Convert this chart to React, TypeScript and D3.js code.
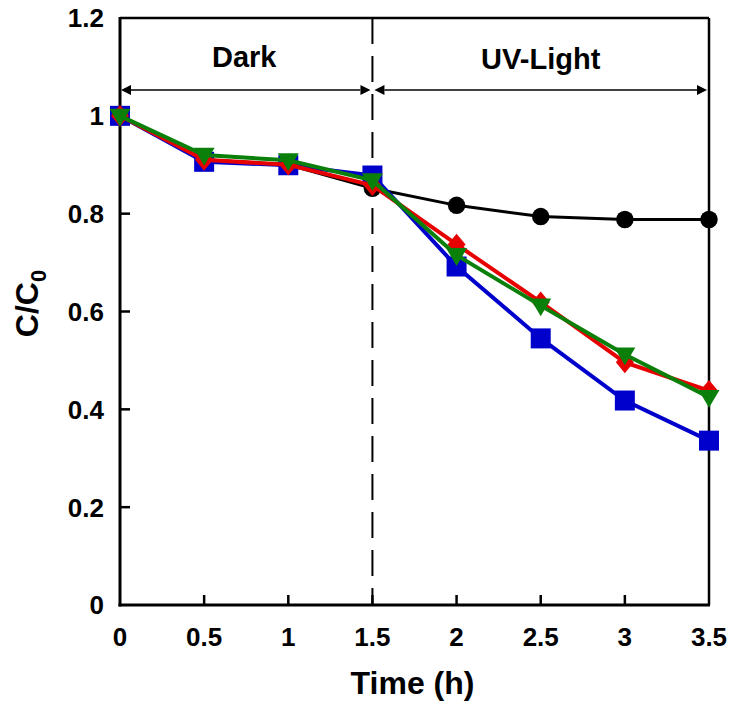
import * as d3 from 'd3';

// sampling times (h) and C/C0 readings for each run
const times = [0, 0.5, 1, 1.5, 2, 2.5, 3, 3.5];
const blackSeries = [1, 0.91, 0.9, 0.852, 0.817, 0.794, 0.788, 0.788];
const blueSeries = [1, 0.906, 0.899, 0.878, 0.692, 0.545, 0.418, 0.336];
const redSeries = [1, 0.91, 0.9, 0.858, 0.737, 0.619, 0.496, 0.438];
const greenSeries = [1, 0.92, 0.909, 0.868, 0.715, 0.612, 0.512, 0.425];

const xTicks = [0, 0.5, 1, 1.5, 2, 2.5, 3, 3.5];
const yTicks = [0, 0.2, 0.4, 0.6, 0.8, 1, 1.2];
const darkEnd = 1.5;

const W = 741;
const H = 710;
const m = { left: 120, right: 32, top: 18, bottom: 105 };
const FONT = '"Liberation Sans", Arial, sans-serif';

const x = d3.scaleLinear().domain([0, 3.5]).range([m.left, W - m.right]);
const y = d3.scaleLinear().domain([0, 1.2]).range([H - m.bottom, m.top]);

// custom marker shapes (size = width in px)
const diamond = {
  draw(ctx: d3.Path, size: number) {
    const w = size / 2;
    const h = size * 0.6;
    ctx.moveTo(0, -h);
    ctx.lineTo(w, 0);
    ctx.lineTo(0, h);
    ctx.lineTo(-w, 0);
    ctx.closePath();
  },
};
const triangleDown = {
  draw(ctx: d3.Path, size: number) {
    const w = size / 2;
    const h = size * 0.85;
    ctx.moveTo(-w, -h * 0.4);
    ctx.lineTo(w, -h * 0.4);
    ctx.lineTo(0, h * 0.6);
    ctx.closePath();
  },
};

const series = [
  { name: 'black', values: blackSeries, color: '#000000', marker: d3.symbol(d3.symbolCircle, 240)(), width: 3 },
  { name: 'blue', values: blueSeries, color: '#0000cc', marker: d3.symbol(d3.symbolSquare, 400)(), width: 4 },
  { name: 'red', values: redSeries, color: '#e60000', marker: d3.symbol(diamond as any, 18)(), width: 4 },
  { name: 'green', values: greenSeries, color: '#0a800a', marker: d3.symbol(triangleDown as any, 21)(), width: 4 },
];

const line = d3
  .line<number>()
  .x((_, i) => x(times[i]))
  .y(d => y(d));

function Arrow({ x1, x2, yy }: { x1: number; x2: number; yy: number }) {
  const hl = 10;
  const hw = 5;
  return (
    <g>
      <line x1={x1 + hl} x2={x2 - hl} y1={yy} y2={yy} stroke="#000" strokeWidth={1.5} />
      <path d={`M${x1},${yy}L${x1 + hl},${yy - hw}L${x1 + hl},${yy + hw}Z`} fill="#000" />
      <path d={`M${x2},${yy}L${x2 - hl},${yy - hw}L${x2 - hl},${yy + hw}Z`} fill="#000" />
    </g>
  );
}

export default function App() {
  const x0 = x(0);
  const x1 = x(3.5);
  const y0 = y(0);
  const yTop = y(1.2);
  const xd = x(darkEnd);
  const arrowY = 90;

  return (
    <svg
      width={W}
      height={H}
      style={{ position: 'absolute', left: 0, top: 0, background: '#fff' }}
      fontFamily={FONT}
      fontWeight="bold"
    >
      <rect width={W} height={H} fill="#fff" />

      {/* dark / light boundary */}
      <line x1={xd} x2={xd} y1={yTop} y2={y0} stroke="#000" strokeWidth={2} strokeDasharray="26,12" />

      {/* frame */}
      <line x1={x0} x2={x1} y1={yTop} y2={yTop} stroke="#000" strokeWidth={2.5} />
      <line x1={x1} x2={x1} y1={yTop} y2={y0} stroke="#000" strokeWidth={2.5} />
      <line x1={x0} x2={x0} y1={yTop - 1} y2={y0 + 1.5} stroke="#000" strokeWidth={3} />
      <line x1={x0 - 1.5} x2={x1 + 1} y1={y0} y2={y0} stroke="#000" strokeWidth={3} />

      {/* ticks, inward */}
      {xTicks.slice(1, -1).map(t => (
        <line key={`xt${t}`} x1={x(t)} x2={x(t)} y1={y0} y2={y0 - 10} stroke="#000" strokeWidth={2.5} />
      ))}
      {yTicks.slice(1, -1).map(t => (
        <line key={`yt${t}`} x1={x0} x2={x0 + 10} y1={y(t)} y2={y(t)} stroke="#000" strokeWidth={2.5} />
      ))}

      {/* tick labels */}
      {xTicks.map(t => (
        <text key={`xl${t}`} x={x(t)} y={y0 + 41} textAnchor="middle" fontSize={26}>
          {String(t)}
        </text>
      ))}
      {yTicks.map(t => (
        <text key={`yl${t}`} x={x0 - 16} y={y(t)} dy="0.36em" textAnchor="end" fontSize={26}>
          {String(t)}
        </text>
      ))}

      {/* axis titles */}
      <text x={(x0 + x1) / 2 - 2} y={H - 16} textAnchor="middle" fontSize={32}>
        Time (h)
      </text>
      <text transform={`translate(38,${(y0 + yTop) / 2 - 8}) rotate(-90)`} textAnchor="middle" fontSize={32}>
        C/C<tspan fontSize={22} dy={8}>0</tspan>
      </text>

      {/* period annotations */}
      <Arrow x1={x0 + 1} x2={xd - 2} yy={arrowY} />
      <Arrow x1={xd + 2} x2={x1 - 2} yy={arrowY} />
      <text x={(x0 + xd) / 2 - 2} y={67} textAnchor="middle" fontSize={29}>
        Dark
      </text>
      <text x={(xd + x1) / 2} y={69} textAnchor="middle" fontSize={29}>
        UV-Light
      </text>

      {/* data */}
      {series.map(s => (
        <g key={s.name}>
          <path d={line(s.values) ?? ''} fill="none" stroke={s.color} strokeWidth={s.width} />
          {s.values.map((v, i) => (
            <path key={i} d={s.marker ?? ''} transform={`translate(${x(times[i])},${y(v)})`} fill={s.color} />
          ))}
        </g>
      ))}
    </svg>
  );
}
